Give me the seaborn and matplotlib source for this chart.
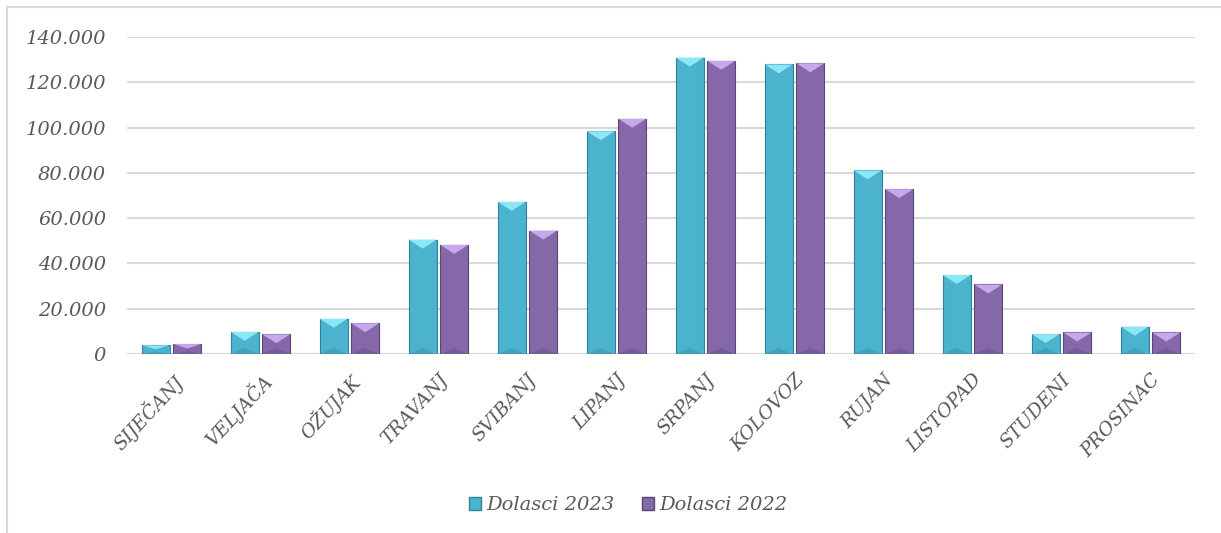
import matplotlib
matplotlib.use("Agg")
import matplotlib.pyplot as plt
import seaborn as sns
import pandas as pd
import numpy as np
from matplotlib.patches import Polygon, Rectangle, Patch
from matplotlib.ticker import FuncFormatter

months = ["SIJEČANJ", "VELJAČA", "OŽUJAK", "TRAVANJ", "SVIBANJ", "LIPANJ",
          "SRPANJ", "KOLOVOZ", "RUJAN", "LISTOPAD", "STUDENI", "PROSINAC"]
dolasci_2023 = [3850, 9780, 15560, 50500, 67200, 98400, 130900, 127900, 81100, 34900, 8800, 12100]
dolasci_2022 = [4400, 8700, 13600, 48200, 54500, 103900, 129500, 128400, 72800, 30700, 9500, 9500]
series_names = ["Dolasci 2023", "Dolasci 2022"]
yticks = [0, 20000, 40000, 60000, 80000, 100000, 120000, 140000]

colors = ["#4BB3CE", "#8468A8"]
top_colors = ["#8BE6F5", "#C5A9EC"]
edge_colors = ["#2E8299", "#5B4578"]

df = pd.DataFrame({
    "month": months * 2,
    "value": dolasci_2023 + dolasci_2022,
    "series": [series_names[0]] * 12 + [series_names[1]] * 12,
})

sns.set_theme(style="white")
plt.rcParams["font.family"] = ["DejaVu Serif"]

W, H = 1221, 533
fig = plt.figure(figsize=(W / 100, H / 100), dpi=100)
ax = fig.add_axes([127 / W, 1 - 354 / H, (1195 - 127) / W, (354 - 37) / H])

sns.barplot(data=df, x="month", y="value", hue="series", order=months,
            hue_order=series_names, palette=colors, width=0.71,
            saturation=1, legend=False, ax=ax, zorder=3)

ax.set_ylim(0, 140000)
ax.set_xlim(-0.5, 11.5)

# shrink bars to leave a small gap and add bevel-like highlights
px_per_unit_y = (354 - 37) / 140000
bar_w = 28 / 89
for i, cont in enumerate(ax.containers):
    for p in cont.patches:
        cx = p.get_x() + p.get_width() / 2
        p.set_x(cx - bar_w / 2)
        p.set_width(bar_w)
        p.set_edgecolor(edge_colors[i])
        p.set_linewidth(0.8)
        x0, x1 = p.get_x(), p.get_x() + bar_w
        h = p.get_height()
        tri = min(9 / px_per_unit_y, h * 0.45)
        ax.add_patch(Polygon([[x0, h], [x1, h], [cx, h - tri]], closed=True,
                             facecolor=top_colors[i], edgecolor="none", zorder=4))
        btri = min(6 / px_per_unit_y, h * 0.3)
        ax.add_patch(Polygon([[x0, 0], [x1, 0], [cx, btri]], closed=True,
                             facecolor=edge_colors[i], alpha=0.35,
                             edgecolor="none", zorder=4))

ax.set_yticks(yticks)
ax.yaxis.set_major_formatter(FuncFormatter(
    lambda v, _: "0" if v == 0 else f"{int(v):,}".replace(",", ".")))
ax.grid(axis="y", color="#D9D9D9", linewidth=1.5, zorder=0)
ax.grid(axis="x", visible=False)
for s in ax.spines.values():
    s.set_visible(False)
ax.axhline(0, color="#D9D9D9", linewidth=1.5, zorder=2)

ax.set_xlabel("")
ax.set_ylabel("")
ax.tick_params(axis="y", length=0, pad=15, labelsize=14, labelcolor="#595959")
ax.tick_params(axis="x", length=0, pad=12, labelsize=13.5, labelcolor="#595959")
for lbl in ax.get_yticklabels():
    lbl.set_fontstyle("italic")
ax.set_xticks(range(len(months)))
ax.set_xticklabels(months, rotation=47, ha="right", rotation_mode="anchor",
                   fontstyle="italic")

handles = [Patch(facecolor=colors[i], edgecolor=edge_colors[i], label=series_names[i])
           for i in range(2)]
leg = fig.legend(handles=handles, loc="center", bbox_to_anchor=(628 / W, 1 - 505 / H),
                 ncol=2, frameon=False, handlelength=0.65, handleheight=0.65,
                 handletextpad=0.25, columnspacing=1.4,
                 prop={"family": "DejaVu Serif", "style": "italic", "size": 14})
for t in leg.get_texts():
    t.set_color("#595959")

fig.patches.append(Rectangle((7 / W, -0.1), 1.2, 1 - 7 / H + 0.1, transform=fig.transFigure,
                             fill=False, edgecolor="#D9D9D9", linewidth=1.5))

fig.savefig("out.png", dpi=100, facecolor="white")
